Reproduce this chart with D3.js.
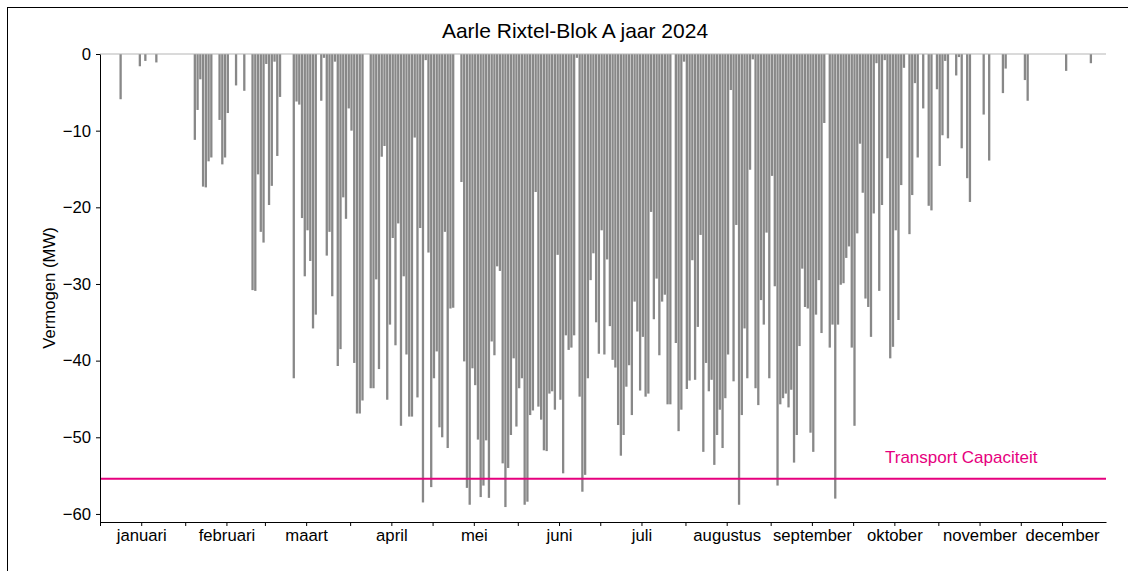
<!DOCTYPE html>
<html><head><meta charset="utf-8">
<script src="https://cdn.jsdelivr.net/npm/d3@7/dist/d3.min.js"></script>
<style>
body{margin:0;background:#fff;}
svg{display:block;font-family:Arial,"Liberation Sans",sans-serif;}
</style>
</head><body>
<svg id="c" width="1128" height="571"></svg>
<script>
// ---- data ----
const chartTitle = "Aarle Rixtel-Blok A jaar 2024";
const yLabel = "Vermogen (MW)";
const monthNames = ["januari","februari","maart","april","mei","juni","juli","augustus","september","oktober","november","december"];
const yTicks = [0,-10,-20,-30,-40,-50,-60];
const capacity = -55.4;
const capacityLabel = "Transport Capaciteit";

// daily peak feed-in (MW), one value per day
const jan = [0,0,0,0,0,0,0,-5.9,0,0, 0,0,0,0,-1.6,0,-0.9,0,0,0, -1.1,0,0,0,0,0,0,0,0,0, 0];
const feb = [0,0,0,-11.2,-7.3,-3.3,-17.3,-17.4,-14.0,-13.5, 0,0,-8.6,-14.4,-13.5,-7.7,0,0,-4.1,0, 0,-4.8,0,0,-30.8,-30.9,-15.7,-23.2,-24.6];
const mar = [-1.3,-19.7,-17.2,-1.0,-13.3,-5.6,0,0,0,0, -42.3,-6.2,-6.6,-21.4,-29.0,-23.0,-27.0,-35.8,-34.0,0, -6.1,-0.5,-26.3,-23.2,-31.6,-1.0,-40.7,-38.5,-18.7,-21.5, -7.1];
const apr = [-10,-40.3,-46.9,-46.9,-45.2,0,0,-43.6,-43.6,-29.4, -41.1,-13.4,-12,-45.1,-35.3,-24.0,-38.0,-22.1,-48.5,-29.0, -39.2,-47.3,-47.3,-10.9,-44.8,-22.7,-58.5,-0.8,-25.9,-56.5];
const may = [-42.3,-38.8,-48.7,-50.0,-23.2,-51.4,-33.2,-33.1,0,0, -16.7,-40.1,-56.6,-58.8,-41.0,-43.2,-50.3,-57.8,-56.3,-50.4, -57.9,-37.5,-39.3,-27.7,-28.3,-53.4,-59.1,-54.0,-49.7,-39.7, -48.6];
const jun = [-43.6,-42.3,-58.8,-58.4,-47.1,-46.5,-18.0,-46.0,-47.7,-51.7, -51.8,-44.3,-44.0,-46.4,-26.2,-45.1,-54.7,-36.7,-38.6,-38.3, -36.7,-0.5,-44.7,-57.1,-54.9,-42.3,-29.5,-26,-35,-39.1];
const jul = [-23.0,-39.2,-26.8,-35.5,-39.9,-40.9,-48.4,-52.4,-49.7,-43.4, -40.6,-47.1,-32.3,-36.2,-43.9,-36.9,-44.7,-44.3,-20.6,-34.6, -29.3,-39.3,-32.3,-31.4,-45.7,-45.7,0,-37.7,-49.2,-46.4, -1.0];
const aug = [-43.7,-42.6,-26.9,-42.5,-35.6,-23.6,-51.9,-40.3,-44.0,-42.5, -53.6,-49.7,-46.4,-51.4,-44.9,-39.2,-4.7,-42.7,-22.3,-58.8, -47.1,-35.8,-42.3,-15.1,-0.7,-43.6,-45.8,-32.1,-35.3,-23.3, -42.3];
const sep = [-15.9,-30.3,-56.3,-45.7,-44.9,-44.3,-46.1,-43.8,-53.3,-49.7, -38.1,-28.0,-33.0,-33.2,-49.4,-51.9,-34.0,-29.5,-36.4,-9.0, 0,-38.3,-35.3,-58.0,-35.3,-30.1,-29.9,-26.6,-25.1,-38.3];
const oct = [-48.5,-23.4,-11.7,-18.1,-31.9,-33.0,-36.9,-20.8,-1.2,-30.9, -19.7,-0.8,-13.6,-39.7,-38.2,-23.0,-34.7,-17.1,-1.8,0, -23.5,-18.4,-3.8,-13.5,0,-7.1,0,-19.8,-20.4,0, -4.6];
const nov = [-14.6,-10.6,-0.9,-11.0,0,0,-2.8,-0.4,-12.3,0, -16.2,-19.3,0,0,0,0,-7.9,0,-13.9,0, 0,0,0,-5.1,-1.9,0,0,0,0,0];
const dec = [0,-3.4,-6.1,0,0,0,0,0,0,0, 0,0,0,0,0,0,-2.2,0,0,0, 0,0,0,0,0,-1.2,0,0,0,0, 0];

// ---- build ----
const months = [jan,feb,mar,apr,may,jun,jul,aug,sep,oct,nov,dec];
const data = [];
months.forEach((arr,m)=>arr.forEach((v,i)=>data.push({date:new Date(2024,m,i+1,12), v})));

const svg = d3.select("#c");
const L=100, R=1106, T=54, B=522;
const x = d3.scaleTime().domain([new Date(2024,0,1), new Date(2025,0,1)]).range([L,R]);
const y = d3.scaleLinear().domain([-61.05,0]).range([B,T]);

// figure frame
svg.append("line").attr("x1",7.5).attr("x2",7.5).attr("y1",7).attr("y2",571).attr("stroke","#000").attr("stroke-width",1);
svg.append("line").attr("x1",7).attr("x2",1128).attr("y1",7.5).attr("y2",7.5).attr("stroke","#000").attr("stroke-width",1);

// bars
svg.append("g").selectAll("rect").data(data.filter(d=>d.v<0)).join("rect")
  .attr("x",d=>x(d.date)-1.15).attr("width",2.3)
  .attr("y",y(0)).attr("height",d=>y(d.v)-y(0))
  .attr("fill","#888888");

// zero line
svg.append("line").attr("x1",L).attr("x2",R).attr("y1",y(0)).attr("y2",y(0)).attr("stroke","#b5b5b5").attr("stroke-width",1);

// capacity line
svg.append("line").attr("x1",L).attr("x2",R).attr("y1",y(capacity)).attr("y2",y(capacity)).attr("stroke","#e6007e").attr("stroke-width",2);
svg.append("text").attr("x",885).attr("y",462.5).attr("fill","#e6007e").attr("font-size","17px").text(capacityLabel);

// y axis
const yAxis = d3.axisLeft(y).tickValues(yTicks).tickSize(4).tickPadding(5).tickSizeOuter(0)
  .tickFormat(d=> d===0 ? "0" : "\u2212"+Math.abs(d));
const gy = svg.append("g").attr("transform",`translate(${L},0)`).call(yAxis);
gy.selectAll("text").attr("font-size","16.7px").attr("font-family","Arial, 'Liberation Sans', sans-serif").attr("fill","#000");
gy.selectAll("line,path").attr("stroke","#000").attr("stroke-width",1);

// x axis
const starts = d3.range(12).map(m=>new Date(2024,m,1));
const mids = d3.range(12).map(m=>new Date(2024,m,16));
const xAxis = d3.axisBottom(x).tickValues(starts.concat(mids)).tickSize(4).tickPadding(3).tickSizeOuter(0)
  .tickFormat(d=> d.getDate()===16 ? monthNames[d.getMonth()] : "");
const gx = svg.append("g").attr("transform",`translate(0,${B})`).call(xAxis);
gx.selectAll("text").attr("font-size","16.7px").attr("font-family","Arial, 'Liberation Sans', sans-serif").attr("fill","#000");
gx.selectAll("line,path").attr("stroke","#000").attr("stroke-width",1);

// title & y label
svg.append("text").attr("x",575).attr("y",38).attr("text-anchor","middle").attr("font-size","21px").text(chartTitle);
svg.append("text").attr("transform","translate(55,288) rotate(-90)").attr("text-anchor","middle").attr("font-size","16.7px").text(yLabel);
</script>
</body></html>
